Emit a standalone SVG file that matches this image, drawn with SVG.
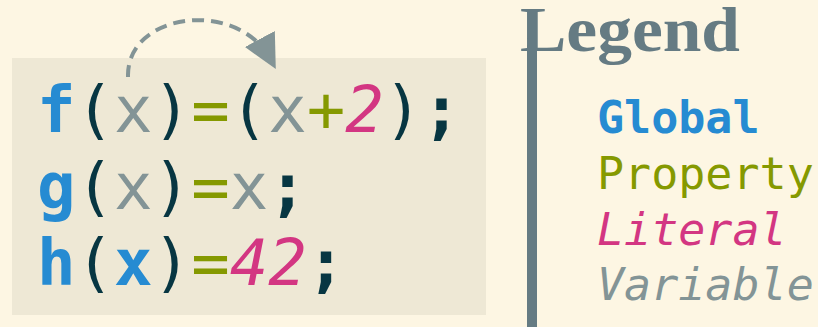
<svg xmlns="http://www.w3.org/2000/svg" width="818" height="327" viewBox="0 0 818 327">
<style>
.code{font-family:"DejaVu Sans Mono","Liberation Mono",monospace;font-size:64px}
.g{fill:#268bd2;font-weight:bold}
.p{fill:#859900}
.l{fill:#d33682;font-style:italic}
.v{fill:#839496}
.vi{fill:#839496;font-style:italic}
.d{fill:#073642}
.leg{font-family:"DejaVu Sans Mono","Liberation Mono",monospace;font-size:45px}
</style>
<defs>
<marker id="ah" viewBox="0 0 10 10" refX="7" refY="5" markerWidth="8.5" markerHeight="8.5" orient="auto" markerUnits="strokeWidth">
<path d="M0,0 L10,5 L0,10 z" fill="#839496"/>
</marker>
</defs>
<rect width="818" height="327" fill="#fdf6e3"/>
<g id="code">
<rect x="12" y="58" width="474" height="257" fill="#eee8d5"/>
<text class="code" x="37" y="132"><tspan class="g">f</tspan><tspan class="d">(</tspan><tspan class="v">x</tspan><tspan class="d">)</tspan><tspan class="p">=</tspan><tspan class="d">(</tspan><tspan class="v">x</tspan><tspan class="p">+</tspan><tspan class="l">2</tspan><tspan class="d">)</tspan><tspan class="d" font-weight="bold">;</tspan></text>
<text class="code" x="37" y="209"><tspan class="g">g</tspan><tspan class="d">(</tspan><tspan class="v">x</tspan><tspan class="d">)</tspan><tspan class="p">=</tspan><tspan class="v">x</tspan><tspan class="d" font-weight="bold">;</tspan></text>
<text class="code" x="37" y="285"><tspan class="g">h</tspan><tspan class="d">(</tspan><tspan class="g">x</tspan><tspan class="d">)</tspan><tspan class="p">=</tspan><tspan class="l">42</tspan><tspan class="d" font-weight="bold">;</tspan></text>
</g>
<g id="connectors">
<path d="M128,77 C126,12 238,-2 271,60" fill="none" stroke="#839496" stroke-width="4" stroke-dasharray="12,7" marker-end="url(#ah)"/>
</g>
<g id="legend">
<rect x="527" y="45" width="10" height="282" fill="#657b83"/>
<text x="520" y="51" font-family="'Liberation Serif',serif" font-weight="bold" font-size="63" fill="#657b83" textLength="220" lengthAdjust="spacingAndGlyphs">Legend</text>
<text class="leg g" x="597" y="133">Global</text>
<text class="leg p" x="597" y="189">Property</text>
<text class="leg l" x="597" y="245">Literal</text>
<text class="leg vi" x="597" y="300">Variable</text>
</g>
</svg>
